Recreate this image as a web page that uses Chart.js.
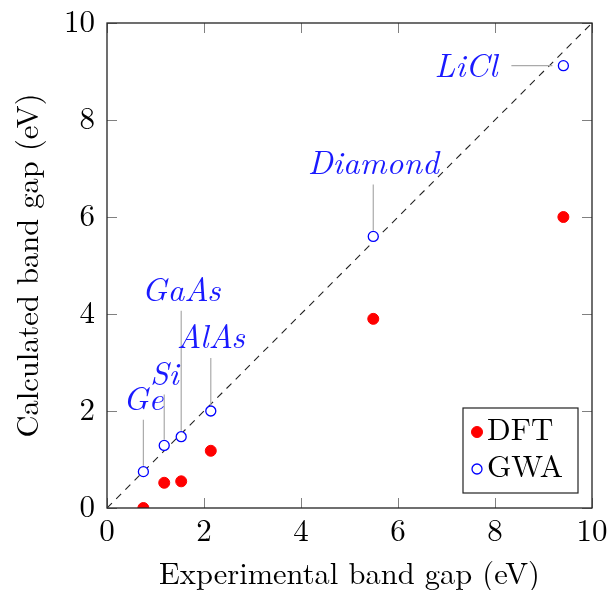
<!DOCTYPE html>
<html lang="en">
<head>
    <meta charset="UTF-8">
    <title>Band gaps: DFT vs GWA</title>
    <script src="https://cdn.jsdelivr.net/npm/chart.js"></script>
    <style>
        body { margin: 0; background: #fff; }
        .container { width: 609px; height: 590px; }
        .warm { position: absolute; left: -999px; top: 0; font-family: 'Latin Modern Roman'; }
    </style>
</head>
<body>

<div class="warm">Warm <i>Warm</i></div>
<div class="container">
    <canvas id="gap-chart"></canvas>
</div>

<script>
    // data (eV)
    const materials = ['Ge', 'Si', 'GaAs', 'AlAs', 'Diamond', 'LiCl'];
    const expGap = [0.75, 1.18, 1.53, 2.14, 5.49, 9.41];
    const dftGap = [0.0, 0.52, 0.55, 1.18, 3.9, 6.0];
    const gwaGap = [0.75, 1.29, 1.47, 2.0, 5.6, 9.12];
    const axisTicks = [0, 2, 4, 6, 8, 10];
    const diagonal = [0, 10];

    // where each pin label goes: direction and distance from the point (px)
    const pins = [
        { dir: 'up', dist: 72 },
        { dir: 'up', dist: 71 },
        { dir: 'up', dist: 146 },
        { dir: 'up', dist: 73 },
        { dir: 'up', dist: 72 },
        { dir: 'left', dist: 66 }
    ];

    const serif = "'Latin Modern Roman', 'Liberation Serif', serif";

    const pts = (xs, ys) => xs.map((v, i) => ({ x: v, y: ys[i] }));

    const decorations = {
        id: 'decorations',
        afterDatasetsDraw(chart) {
            const { ctx, chartArea: a, scales: { x, y } } = chart;
            ctx.save();

            // inward ticks on all four sides
            ctx.strokeStyle = '#808080';
            ctx.lineWidth = 1;
            ctx.beginPath();
            axisTicks.forEach(v => {
                const px = Math.round(x.getPixelForValue(v)) + 0.5;
                const py = Math.round(y.getPixelForValue(v)) + 0.5;
                ctx.moveTo(px, a.bottom); ctx.lineTo(px, a.bottom - 10);
                ctx.moveTo(px, a.top); ctx.lineTo(px, a.top + 10);
                ctx.moveTo(a.left, py); ctx.lineTo(a.left + 10, py);
                ctx.moveTo(a.right, py); ctx.lineTo(a.right - 10, py);
            });
            ctx.stroke();

            // frame
            ctx.strokeStyle = '#222';
            ctx.lineWidth = 1.3;
            ctx.strokeRect(a.left, a.top, a.width, a.height);

            // pins + labels for the GWA points
            ctx.font = 'italic 33px ' + serif;
            ctx.textBaseline = 'middle';
            materials.forEach((name, i) => {
                const px = x.getPixelForValue(expGap[i]);
                const py = y.getPixelForValue(gwaGap[i]);
                const pin = pins[i];
                ctx.strokeStyle = '#aaaaaa';
                ctx.lineWidth = 1.2;
                ctx.beginPath();
                if (pin.dir === 'up') {
                    ctx.moveTo(px, py - 6);
                    ctx.lineTo(px, py - pin.dist + 20);
                    ctx.stroke();
                    ctx.fillStyle = '#1a1aff';
                    ctx.textAlign = 'center';
                    ctx.fillText(name, px, py - pin.dist);
                } else {
                    ctx.moveTo(px - 11, py);
                    ctx.lineTo(px - 52, py);
                    ctx.stroke();
                    ctx.fillStyle = '#1a1aff';
                    ctx.textAlign = 'right';
                    ctx.fillText(name, px - pin.dist, py + 1);
                }
            });

            // legend box, lower right
            const bx = a.right - 129, by = a.bottom - 100, bw = 115, bh = 85;
            ctx.fillStyle = '#fff';
            ctx.fillRect(bx, by, bw, bh);
            ctx.strokeStyle = '#222';
            ctx.lineWidth = 1.2;
            ctx.strokeRect(bx, by, bw, bh);
            ctx.font = '31px ' + serif;
            ctx.textAlign = 'left';
            ctx.fillStyle = '#000';
            chart.data.datasets.slice(0, 2).forEach((ds, k) => {
                const my = by + 24 + k * 37;
                ctx.beginPath();
                ctx.arc(bx + 14, my, ds.pointRadius, 0, Math.PI * 2);
                ctx.fillStyle = ds.backgroundColor;
                ctx.fill();
                ctx.strokeStyle = ds.borderColor;
                ctx.lineWidth = ds.borderWidth;
                ctx.stroke();
                ctx.fillStyle = '#000';
                ctx.fillText(ds.label, bx + 24, my - 1);
            });

            ctx.restore();
        }
    };

    function drawChart() {
        const ctx = document.getElementById('gap-chart').getContext('2d');
        new Chart(ctx, {
            type: 'scatter',
            data: {
                datasets: [
                    {
                        label: 'DFT',
                        data: pts(expGap, dftGap),
                        backgroundColor: '#ff0000',
                        borderColor: '#ff0000',
                        borderWidth: 1,
                        pointRadius: 5.5,
                        order: 2
                    },
                    {
                        label: 'GWA',
                        data: pts(expGap, gwaGap),
                        backgroundColor: '#ffffff',
                        borderColor: '#0000ff',
                        borderWidth: 1.3,
                        pointRadius: 5,
                        order: 1
                    },
                    {
                        label: 'y = x',
                        data: pts(diagonal, diagonal),
                        showLine: true,
                        pointRadius: 0,
                        borderColor: '#222',
                        borderWidth: 1.1,
                        borderDash: [7, 6],
                        order: 3
                    }
                ]
            },
            options: {
                responsive: true,
                maintainAspectRatio: false,
                animation: false,
                layout: { padding: { top: 23, right: 17, left: 0, bottom: 0 } },
                plugins: {
                    legend: { display: false },
                    tooltip: { enabled: false }
                },
                scales: {
                    x: {
                        type: 'linear',
                        min: 0,
                        max: 10,
                        afterBuildTicks: s => { s.ticks = axisTicks.map(v => ({ value: v })); },
                        grid: { display: false, drawTicks: false },
                        border: { display: false },
                        ticks: {
                            color: '#000',
                            padding: 5,
                            maxRotation: 0,
                            font: { family: serif, size: 31 }
                        },
                        title: {
                            display: true,
                            text: 'Experimental band gap (eV)',
                            color: '#000',
                            padding: { top: 0, bottom: 2 },
                            font: { family: serif, size: 30.5, lineHeight: 0.9 }
                        },
                        afterFit: s => { s.height = 82; s.paddingLeft = 0; s.paddingRight = 0; }
                    },
                    y: {
                        type: 'linear',
                        min: 0,
                        max: 10,
                        afterBuildTicks: s => { s.ticks = axisTicks.map(v => ({ value: v })); },
                        grid: { display: false, drawTicks: false },
                        border: { display: false },
                        ticks: {
                            color: '#000',
                            padding: 12,
                            font: { family: serif, size: 31 }
                        },
                        title: {
                            display: true,
                            text: 'Calculated band gap (eV)',
                            color: '#000',
                            padding: { top: 15, bottom: 0 },
                            font: { family: serif, size: 30.5, lineHeight: 0.9 }
                        },
                        afterFit: s => { s.width = 107; s.paddingTop = 0; s.paddingBottom = 0; }
                    }
                }
            },
            plugins: [decorations]
        });
    }

    document.fonts.load("30px 'Latin Modern Roman'")
        .then(() => document.fonts.load("italic 33px 'Latin Modern Roman'"))
        .then(drawChart, drawChart);
</script>

</body>
</html>
